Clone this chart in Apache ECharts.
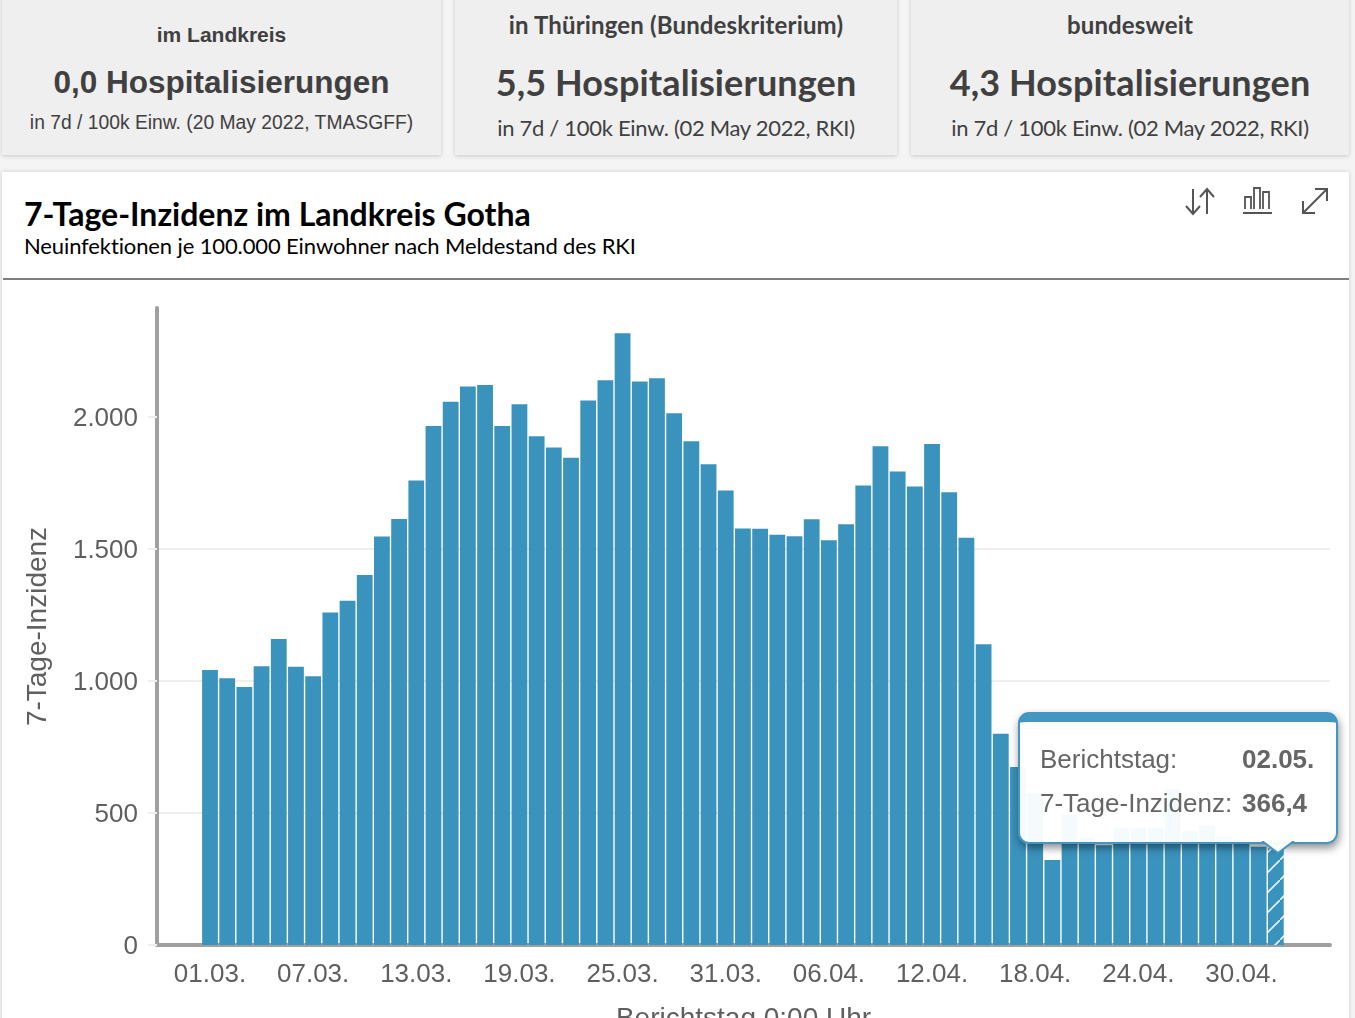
<!DOCTYPE html>
<html lang="de"><head><meta charset="utf-8">
<script src="https://cdn.jsdelivr.net/npm/echarts@6/dist/echarts.min.js"></script>
<style>
html,body{margin:0;padding:0;width:1355px;height:1018px;overflow:hidden;background:#f4f4f4;}
.card{position:absolute;top:-10px;height:165px;background:#efefef;box-shadow:0 1px 4px rgba(0,0,0,.18);color:#404040;text-align:center;white-space:nowrap;}
.t{position:absolute;left:0;right:0;}
#panel{position:absolute;left:2px;top:172px;width:1347px;height:900px;background:#fff;box-shadow:0 0 4px rgba(0,0,0,.18);}
#h1{position:absolute;left:24px;top:195px;font:700 32px/38px Lato,sans-serif;color:#000;white-space:nowrap;}
#h2{position:absolute;left:24px;top:232px;font:400 22px/27px Lato,sans-serif;letter-spacing:-.12px;color:#000;white-space:nowrap;}
#rule{position:absolute;left:3px;top:278px;width:1346px;height:2px;background:#7f7f7f;}
#chart{position:absolute;left:0;top:0;width:1355px;height:1018px;}
.ic{position:absolute;top:185px;fill:none;stroke:#555;stroke-width:2;}
</style></head><body>
<div class="card" style="left:2px;width:439px">
  <div class="t" style="top:31px;font:700 21px/28px 'Liberation Sans'">im Landkreis</div>
  <div class="t" style="top:72px;font:700 31.5px/40px 'Liberation Sans'">0,0 Hospitalisierungen</div>
  <div class="t" style="top:120px;font:400 19.3px/26px 'Liberation Sans'">in 7d / 100k Einw. (20 May 2022, TMASGFF)</div>
</div>
<div class="card" style="left:455px;width:442px">
  <div class="t" style="top:20px;font:700 24px/30px Lato;letter-spacing:.15px">in Thüringen (Bundeskriterium)</div>
  <div class="t" style="top:70px;font:700 36px/44px Lato;letter-spacing:.1px">5,5 Hospitalisierungen</div>
  <div class="t" style="top:124px;font:400 22px/28px Lato;letter-spacing:-.3px">in 7d / 100k Einw. (02 May 2022, RKI)</div>
</div>
<div class="card" style="left:911px;width:438px">
  <div class="t" style="top:20px;font:700 24px/30px Lato;letter-spacing:.15px">bundesweit</div>
  <div class="t" style="top:70px;font:700 36px/44px Lato;letter-spacing:.1px">4,3 Hospitalisierungen</div>
  <div class="t" style="top:124px;font:400 22px/28px Lato;letter-spacing:-.3px">in 7d / 100k Einw. (02 May 2022, RKI)</div>
</div>
<div id="panel"></div>
<div id="h1">7-Tage-Inzidenz im Landkreis Gotha</div>
<div id="h2">Neuinfektionen je 100.000 Einwohner nach Meldestand des RKI</div>
<div id="rule"></div>
<div id="chart"></div>
<svg class="ic" style="left:1184px" width="34" height="32"><path d="M9 4V29M2 21l7 8 7-8M23 29V4M16 12l7-8 7 8"/></svg>
<svg class="ic" style="left:1242px" width="32" height="32"><path d="M1 28H30M3 24V12H9V24M12 24V3H18V24M21 24V7H27V24" stroke-width="1.8"/></svg>
<svg class="ic" style="left:1299px" width="32" height="32"><path d="M4 28L28 4M4 16V28H16M16 4H28V16"/></svg>
<script>
const dateLabels = ["01.03.","02.03.","03.03.","04.03.","05.03.","06.03.","07.03.","08.03.","09.03.","10.03.","11.03.","12.03.","13.03.","14.03.","15.03.","16.03.","17.03.","18.03.","19.03.","20.03.","21.03.","22.03.","23.03.","24.03.","25.03.","26.03.","27.03.","28.03.","29.03.","30.03.","31.03.","01.04.","02.04.","03.04.","04.04.","05.04.","06.04.","07.04.","08.04.","09.04.","10.04.","11.04.","12.04.","13.04.","14.04.","15.04.","16.04.","17.04.","18.04.","19.04.","20.04.","21.04.","22.04.","23.04.","24.04.","25.04.","26.04.","27.04.","28.04.","29.04.","30.04.","01.05.","02.05."];
const incidence = [1042,1010,977,1056,1159,1054,1018,1260,1304,1402,1547,1614,1760,1966,2058,2116,2121,1966,2048,1927,1885,1846,2063,2139,2317,2135,2147,2014,1908,1821,1722,1578,1577,1554,1548,1613,1533,1594,1741,1889,1794,1737,1898,1715,1543,1139,800,674,577,322,494,406,378,442,442,442,591,432,453,410,398,372,366.4];
const labelledDays = [0,6,12,18,24,30,36,42,48,54,60];
const yTicks = 500;

const BLUE = '#3a93bd';
const hatch = document.createElement('canvas');
hatch.width = 20; hatch.height = 20;
const c = hatch.getContext('2d');
c.fillStyle = BLUE; c.fillRect(0,0,20,20);
c.strokeStyle = '#e8f2f7'; c.lineWidth = 1.6;
c.beginPath(); c.moveTo(-2,22); c.lineTo(22,-2); c.stroke();

const fmt = v => String(v).replace(/\B(?=(\d{3})+$)/g,'.');
const chart = echarts.init(document.getElementById('chart'), null, {renderer:'canvas'});
const axisFont = {color:'#5f5f5f', fontFamily:'"Liberation Sans",Arial,sans-serif', fontSize:26};
const nameFont = {...axisFont, fontSize:28};
chart.setOption({
  animation:false,
  backgroundColor:'transparent',
  grid:{left:157,right:25,top:308,bottom:73,outerBoundsMode:'none'},
  tooltip:{
    trigger:'item', alwaysShowContent:true, transitionDuration:0,
    position:[1018,712], padding:0, borderWidth:0, backgroundColor:'transparent', extraCssText:'box-shadow:none;',
    formatter:p=>{
      const val = String(p.value[1]).replace('.',',');
      return `<div style="position:relative;box-sizing:border-box;width:320px;height:132px;background:rgba(255,255,255,.95);border:2px solid #4396c2;border-top:10px solid #4396c2;border-radius:11px;box-shadow:1px 4px 9px rgba(0,0,0,.45);font:26px/44px 'Liberation Sans',Arial,sans-serif;color:#666;">
      <div style="position:absolute;left:20px;top:15px;white-space:nowrap">Berichtstag:<b style="position:absolute;left:202px">${dateLabels[p.dataIndex]}</b></div>
      <div style="position:absolute;left:20px;top:59px;white-space:nowrap;">7-Tage-Inzidenz:<b style="position:absolute;left:202px">${val}</b></div>
      <svg style="position:absolute;left:240px;top:119px" width="36" height="16"><path d="M2 0L18 12 34 0" fill="rgba(255,255,255,.95)" stroke="#4396c2" stroke-width="2"/></svg>
      </div>`;
    }
  },
  xAxis:{
    type:'value', min:-3.083, max:65.15,
    name:'Berichtstag 0:00 Uhr', nameLocation:'middle', nameGap:60,
    nameTextStyle:{...nameFont, verticalAlign:'top'},
    axisLine:{show:true,onZero:false,lineStyle:{color:'#a0a0a0',width:4}},
    axisTick:{show:false}, splitLine:{show:false},
    axisLabel:{...axisFont, margin:17, customValues:labelledDays, formatter:v=>dateLabels[v]||'', hideOverlap:false}
  },
  yAxis:{
    type:'value', min:0, max:2413, interval:yTicks,
    name:'7-Tage-Inzidenz', nameLocation:'middle', nameGap:105, nameRotate:90,
    nameTextStyle:nameFont,
    axisLine:{show:true,onZero:false,lineStyle:{color:'#a0a0a0',width:4}},
    axisTick:{show:true,length:9,lineStyle:{color:'#eeeeee',width:2},customValues:[0,500,1000,1500,2000]},
    splitLine:{show:true,showMaxLine:false,lineStyle:{color:'#eeeeee',width:2}},
    axisLabel:{...axisFont, margin:19, showMaxLabel:false, formatter:v=>'{n|'+fmt(v)+'}', rich:{n:{...axisFont, padding:[4,0,0,0]}}}
  },
  series:[{
    type:'bar', barWidth:15.8, clip:false,
    itemStyle:{color:BLUE},
    emphasis:{disabled:true},
    data:incidence.map((v,i)=> i===incidence.length-1
      ? {value:[i,v],itemStyle:{color:{image:hatch,repeat:'repeat'}}}
      : {value:[i,v]})
  }]
});
chart.dispatchAction({type:'showTip',seriesIndex:0,dataIndex:incidence.length-1});
</script>
</body></html>
